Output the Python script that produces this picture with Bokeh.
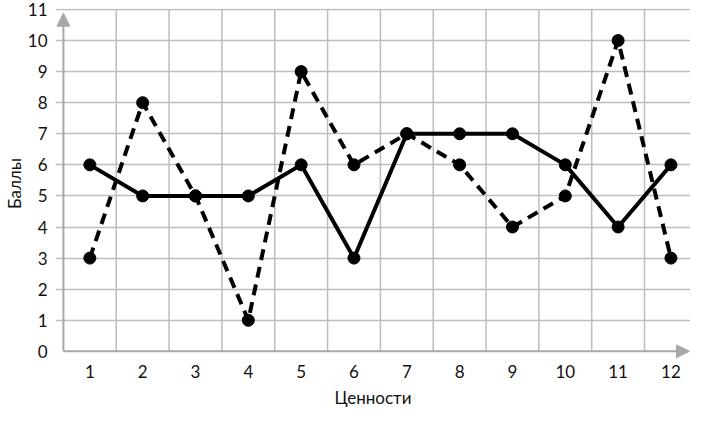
from bokeh.plotting import figure
from bokeh.models import Range1d, FixedTicker, Arrow, NormalHead
from bokeh.embed import file_html
from bokeh.resources import INLINE

categories = [1, 2, 3, 4, 5, 6, 7, 8, 9, 10, 11, 12]
series_solid = [6, 5, 5, 5, 6, 3, 7, 7, 7, 6, 4, 6]
series_dashed = [3, 8, 5, 1, 9, 6, 7, 6, 4, 5, 10, 3]
y_ticks = [0, 1, 2, 3, 4, 5, 6, 7, 8, 9, 10, 11]
x_title = "Ценности"
y_title = "Баллы"

FONT = "Lato"
GRID = "#bdbdbd"
AXIS = "#a8a8a8"

x_axis_pos = categories[0] - 0.5
x_lo = x_axis_pos - 0.15
x_hi = categories[-1] + 0.37
y_lo = -0.23
y_top = y_ticks[-1] + 0.03

p = figure(width=690, height=410, output_backend="svg", toolbar_location=None,
           x_range=Range1d(x_lo, x_hi), y_range=Range1d(y_lo, y_top),
           min_border_left=40, min_border_right=0, min_border_top=8, min_border_bottom=40)
p.outline_line_color = None
p.background_fill_color = "white"
p.border_fill_color = "white"

# grid (horizontal from Bokeh grid, vertical drawn as segments from 0 to top)
p.xgrid.grid_line_color = None
p.ygrid.ticker = FixedTicker(ticks=y_ticks[1:])
p.ygrid.grid_line_color = GRID
p.ygrid.grid_line_width = 1.5
p.ygrid.bounds = (x_axis_pos, x_hi)
boundaries = [c - 0.5 for c in categories[1:]]
p.segment(x0=boundaries, y0=0, x1=boundaries, y1=y_ticks[-1],
          line_color=GRID, line_width=1.5)

# axes
p.xaxis.ticker = FixedTicker(ticks=categories)
p.yaxis.ticker = FixedTicker(ticks=y_ticks)
for ax in (p.xaxis, p.yaxis):
    ax.axis_line_color = None
    ax.major_tick_line_color = None
    ax.minor_tick_line_color = None
    ax.major_tick_out = 0
    ax.major_label_text_font = FONT
    ax.major_label_text_font_size = "17px"
    ax.major_label_text_color = "#111111"
    ax.major_label_text_line_height = 0.9
    ax.axis_label_text_font = FONT
    ax.axis_label_text_font_size = "17px"
    ax.axis_label_text_font_style = "normal"
    ax.axis_label_text_color = "#111111"
    ax.axis_label_text_line_height = 0.9
p.xaxis.axis_label = x_title
p.yaxis.axis_label = y_title
p.xaxis.major_label_standoff = 6
p.xaxis.axis_label_standoff = 6
p.yaxis.major_label_standoff = 8
p.yaxis.axis_label_standoff = 0

# axis arrows
p.add_layout(Arrow(x_start=x_axis_pos, y_start=0, x_end=x_axis_pos, y_end=y_ticks[-1] - 0.12,
                   line_color=AXIS, line_width=2,
                   end=NormalHead(size=13, fill_color=AXIS, line_color=AXIS)))
p.add_layout(Arrow(x_start=x_axis_pos, y_start=0, x_end=x_hi - 0.02, y_end=0,
                   line_color=AXIS, line_width=2,
                   end=NormalHead(size=13, fill_color=AXIS, line_color=AXIS)))

# series
p.line(categories, series_solid, line_color="black", line_width=4)
p.scatter(categories, series_solid, size=12, fill_color="black", line_color="black")
p.line(categories, series_dashed, line_color="black", line_width=4, line_dash="11 7")
p.scatter(categories, series_dashed, size=12, fill_color="black", line_color="black")

open("out.html", "w").write(file_html(p, INLINE))
